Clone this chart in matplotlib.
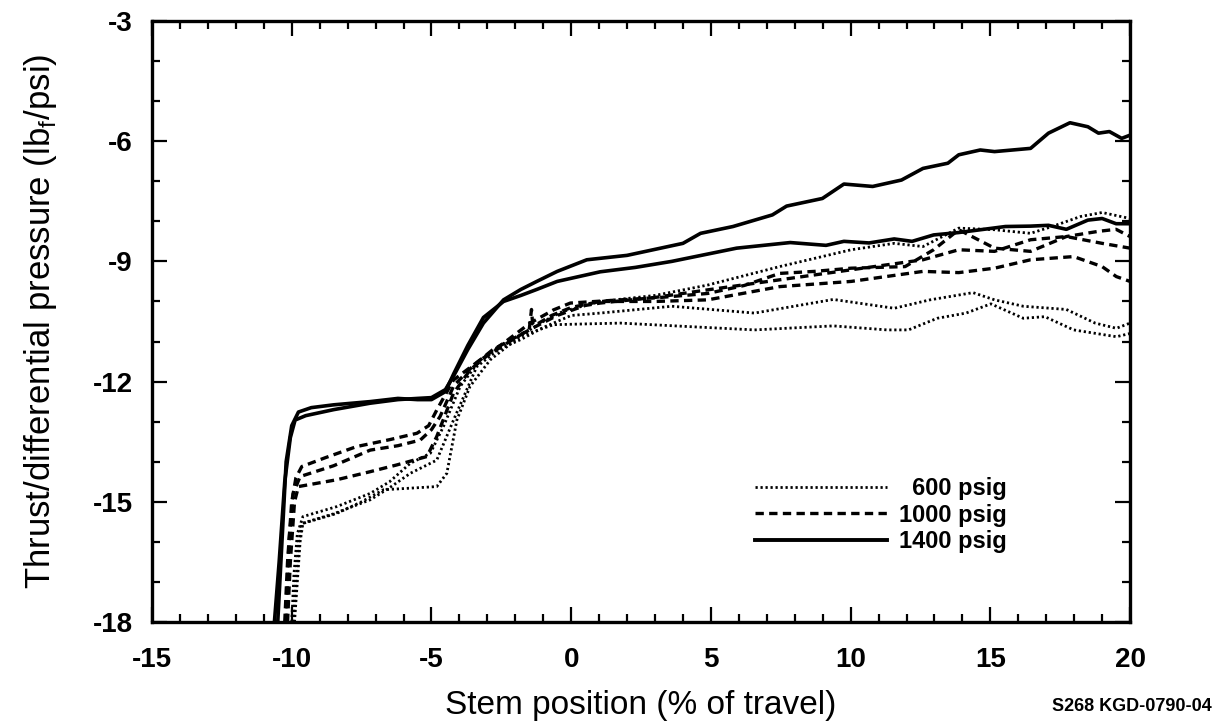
import numpy as np
import matplotlib.pyplot as plt
from matplotlib.ticker import MultipleLocator

plt.rcParams.update({
    "font.family": ["Liberation Sans", "DejaVu Sans"],
    "axes.unicode_minus": False,
})

# 1400 psig (solid)
x_s1 = [-10.62, -10.45, -10.25, -10.05, -9.88, -9.5, -8.5, -7.2, -6.2, -5.5, -5.0, -4.5, -4.2, -3.7,
        -3.14, -2.42, -1.8, -1.23, -0.5, 0.56, 2.0, 4.0, 4.63, 5.79, 7.2, 7.71, 8.99, 9.76, 10.79,
        11.82, 12.59, 13.48, 13.87, 14.64, 15.15, 16.44, 17.08, 17.85, 18.49, 18.87, 19.26, 19.7, 20.0]
y_s1 = [-18.0, -16.5, -14.5, -13.4, -12.96, -12.85, -12.7, -12.54, -12.45, -12.42, -12.4, -12.2, -11.85, -11.2,
        -10.54, -9.96, -9.7, -9.5, -9.25, -8.96, -8.85, -8.55, -8.30, -8.13, -7.84, -7.62, -7.43, -7.07, -7.13,
        -6.97, -6.68, -6.55, -6.34, -6.22, -6.26, -6.18, -5.80, -5.54, -5.64, -5.80, -5.76, -5.93, -5.85]

x_s2 = [-10.5, -10.35, -10.2, -10.0, -9.76, -9.3, -8.5, -7.2, -6.2, -5.5, -5.0, -4.5, -4.2, -3.7,
        -3.14, -2.42, -1.8, -1.23, -0.5, 1.04, 2.3, 3.6, 5.92, 7.84, 9.12, 9.76, 10.66, 11.56, 12.2,
        12.97, 13.87, 15.54, 16.44, 17.08, 17.72, 18.49, 19.0, 19.5, 20.0]
y_s2 = [-18.0, -16.0, -14.0, -13.1, -12.76, -12.65, -12.58, -12.5, -12.42, -12.45, -12.45, -12.25, -11.8, -11.1,
        -10.4, -10.0, -9.85, -9.7, -9.5, -9.26, -9.15, -9.0, -8.67, -8.53, -8.60, -8.50, -8.54, -8.44, -8.50,
        -8.34, -8.28, -8.13, -8.12, -8.10, -8.20, -7.97, -7.93, -8.06, -8.06]

# 1000 psig (dashed)
x_d1 = [-10.25, -10.15, -10.0, -9.85, -9.64, -8.8, -7.67, -6.5, -5.52, -5.1, -4.81, -4.21, -3.26, -2.42,
        -1.47, -0.63, -0.03, 1.76, 3.2, 4.89, 6.2, 7.46, 8.7, 10.02, 11.95, 12.97, 13.87, 15.15, 16.44,
        17.72, 18.87, 19.5, 20.0]
y_d1 = [-18.0, -16.5, -15.0, -14.4, -14.12, -13.9, -13.62, -13.45, -13.29, -13.1, -12.71, -11.96, -11.46, -11.04,
        -10.54, -10.21, -10.04, -9.96, -9.9, -9.8, -9.6, -9.30, -9.25, -9.17, -9.13, -8.71, -8.21, -8.67, -8.75,
        -8.38, -8.25, -8.2, -8.38]

x_d2 = [-10.2, -10.1, -9.95, -9.7, -8.5, -7.19, -6.2, -5.4, -5.0, -4.69, -4.2, -3.5, -2.8, -2.0, -1.2,
        -0.5, 0.5, 1.04, 3.0, 4.89, 7.46, 10.02, 12.59, 13.87, 15.15, 16.44, 17.72, 19.0, 20.0]
y_d2 = [-18.0, -16.0, -14.8, -14.37, -14.1, -13.71, -13.6, -13.46, -13.2, -12.87, -12.1, -11.6, -11.2, -10.9, -10.6,
        -10.35, -10.1, -10.04, -9.9, -9.71, -9.46, -9.21, -8.96, -8.71, -8.75, -8.46, -8.38, -8.55, -8.67]

x_d3 = [-10.15, -10.05, -9.9, -9.76, -8.39, -7.2, -6.24, -5.16, -4.81, -4.21, -3.62, -3.0, -2.2, -1.5,
        -1.42, -1.38, -1.3, -0.7, 0.0, 1.04, 3.0, 4.89, 7.46, 10.02, 12.59, 13.87, 15.15, 16.44, 17.98,
        19.0, 19.51, 20.0]
y_d3 = [-18.0, -16.5, -15.0, -14.62, -14.45, -14.25, -14.08, -13.87, -13.37, -12.29, -11.71, -11.35, -11.0, -10.7,
        -10.2, -10.55, -10.6, -10.35, -10.15, -10.0, -10.0, -9.96, -9.63, -9.5, -9.25, -9.28, -9.17, -8.96, -8.88,
        -9.13, -9.38, -9.5]

# 600 psig (dotted)
x_p1 = [-10.0, -9.92, -9.8, -9.6, -8.39, -7.19, -6.5, -5.76, -5.04, -4.57, -3.97, -3.26, -2.5, -1.8,
        -1.0, -0.3, 1.04, 3.0, 4.89, 7.46, 10.02, 11.56, 12.59, 13.87, 15.15, 16.44, 17.21, 18.23, 19.0, 20.0]
y_p1 = [-18.0, -16.8, -15.8, -15.37, -15.12, -14.79, -14.5, -14.04, -13.79, -13.12, -12.12, -11.46, -11.1, -10.85,
        -10.5, -10.25, -10.0, -9.85, -9.59, -9.13, -8.71, -8.55, -8.63, -8.17, -8.21, -8.30, -8.13, -7.88, -7.78, -7.93]

x_p2 = [-9.95, -9.85, -9.75, -9.64, -8.5, -7.19, -6.5, -5.76, -4.81, -4.21, -3.38, -2.6, -1.8, -1.0,
        0.0, 1.04, 3.6, 6.56, 9.38, 11.56, 12.84, 14.38, 15.15, 16.18, 17.72, 18.75, 19.51, 20.0]
y_p2 = [-18.0, -17.0, -16.0, -15.54, -15.3, -14.95, -14.65, -14.29, -13.96, -12.96, -11.63, -11.2, -10.95, -10.65,
        -10.35, -10.29, -10.12, -10.29, -9.95, -10.17, -9.96, -9.78, -9.96, -10.12, -10.2, -10.54, -10.67, -10.54]

x_p3 = [-9.9, -9.8, -9.7, -9.6, -8.39, -7.5, -6.72, -5.76, -4.81, -4.45, -4.09, -3.62, -2.9, -1.83,
        -0.63, 1.76, 4.0, 6.56, 9.38, 11.3, 12.07, 13.1, 14.13, 15.02, 16.18, 16.95, 17.98, 19.51, 20.0]
y_p3 = [-18.0, -17.0, -16.0, -15.54, -15.29, -15.0, -14.70, -14.66, -14.62, -14.29, -12.96, -12.12, -11.46, -10.87,
        -10.58, -10.54, -10.62, -10.71, -10.61, -10.71, -10.71, -10.42, -10.29, -10.06, -10.42, -10.38, -10.71, -10.88, -10.80]

legend_labels = ["\u2007600 psig", "1000 psig", "1400 psig"]

dotted = (0, (0.8, 1.0))
dashed = (0, (2.5, 1.6))

fig = plt.figure(figsize=(12.18, 7.28), dpi=100)
ax = fig.add_axes([0.1248, 0.1456, 0.803, 0.8256])

for xs, ys in [(x_p1, y_p1), (x_p2, y_p2), (x_p3, y_p3)]:
    ax.plot(xs, ys, color='k', lw=2.0, ls=dotted)
for xs, ys in [(x_d1, y_d1), (x_d2, y_d2), (x_d3, y_d3)]:
    ax.plot(xs, ys, color='k', lw=2.4, ls=dashed)
for xs, ys in [(x_s1, y_s1), (x_s2, y_s2)]:
    ax.plot(xs, ys, color='k', lw=2.6, ls='-')

h1, = ax.plot([], [], color='k', lw=2.0, ls=dotted)
h2, = ax.plot([], [], color='k', lw=2.4, ls=dashed)
h3, = ax.plot([], [], color='k', lw=2.8, ls='-')
ax.legend([h1, h2, h3], legend_labels, loc='center', bbox_to_anchor=(0.745, 0.178),
          frameon=False, handlelength=5.6, handletextpad=0.5, labelspacing=0.15,
          prop={'size': 17, 'weight': 'bold'})

ax.set_xlim(-15, 20)
ax.set_ylim(-18, -3)
ax.xaxis.set_major_locator(MultipleLocator(5))
ax.xaxis.set_minor_locator(MultipleLocator(1))
ax.yaxis.set_major_locator(MultipleLocator(3))
ax.yaxis.set_minor_locator(MultipleLocator(1))
ax.tick_params(which='both', direction='in', top=True, right=True, width=1.6)
ax.tick_params(which='major', length=11)
ax.tick_params(which='minor', length=6)
ax.tick_params(axis='x', which='major', pad=18, labelsize=20)
ax.tick_params(axis='y', which='major', pad=14, labelsize=20)
for lab in ax.get_xticklabels() + ax.get_yticklabels():
    lab.set_fontweight('bold')
for sp in ax.spines.values():
    sp.set_linewidth(2.4)

ax.set_xlabel("Stem position (% of travel)", fontsize=24, labelpad=12)
ax.set_ylabel("Thrust/differential pressure (lb$_\\mathregular{f}$/psi)", fontsize=25, labelpad=24)

fig.text(0.995, 0.03, "S268 KGD-0790-04", ha='right', va='center', fontsize=13, fontweight='bold')

fig.savefig("out.png", dpi=100)
